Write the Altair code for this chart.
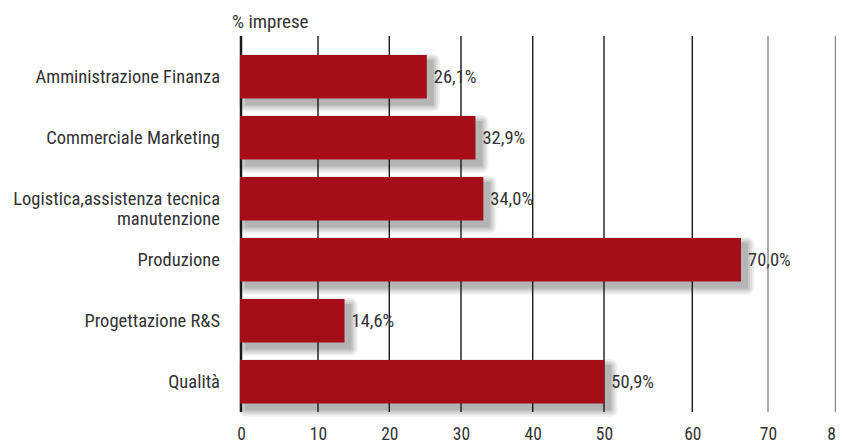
import altair as alt
import pandas as pd

categories = [
    "Amministrazione Finanza",
    "Commerciale Marketing",
    "Logistica,assistenza tecnica\nmanutenzione",
    "Produzione",
    "Progettazione R&S",
    "Qualità",
]
values = [26.1, 32.9, 34.0, 70.0, 14.6, 50.9]
tick_values = [0, 10, 20, 30, 40, 50, 60, 70, 80]
# the original's axis is drawn irregularly; this piecewise scale reproduces where its gridlines sit
grid_range = [1, 78, 149.3, 221, 292.7, 364, 452.3, 528, 595.5]

df = pd.DataFrame({"cat": categories, "value": values})
ticks = pd.DataFrame({"tick": tick_values})

FONT = "Roboto Condensed, Liberation Sans Narrow, DejaVu Sans Condensed, sans-serif"
FS = 18.5
W, H = 596, 376
RED = "#A60E17"
TXT = "#333333"

xs = alt.Scale(domain=[0, 83.27], nice=False, zero=True)
ys = alt.Scale(paddingInner=0.287, paddingOuter=0.2254, align=0.69)

base = alt.Chart(df).encode(
    y=alt.Y("cat:N", sort=categories, scale=ys, axis=None),
)

def shadow(sw, op):
    return base.mark_bar(
        xOffset=6, yOffset=6, color="#222222", stroke="#222222",
        strokeWidth=sw, opacity=op, strokeJoin="round",
    ).encode(x=alt.X("value:Q", scale=xs, axis=None))

shadows = [shadow(14, 0.07), shadow(10, 0.08), shadow(6, 0.10), shadow(2, 0.12)]

grid = alt.Chart(ticks).mark_rule().encode(
    x=alt.X(
        "tick:Q",
        scale=alt.Scale(domain=tick_values, range=grid_range),
        axis=alt.Axis(
            values=tick_values, grid=False, domain=False, ticks=False,
            labelPadding=13, labelFontSize=17.5, labelFont=FONT, labelColor=TXT,
            title=None, labelFlush=False,
        ),
    ),
    color=alt.condition("datum.tick >= 70", alt.value("#8a8a8a"), alt.value("#1a1a1a")),
    strokeWidth=alt.condition("datum.tick == 0", alt.value(2.5), alt.value(1.4)),
)

bars = base.mark_bar(color=RED).encode(x=alt.X("value:Q", scale=xs, axis=None))

vlabels = base.mark_text(
    align="left", baseline="middle", dx=7, fontSize=FS, font=FONT, color=TXT
).transform_calculate(
    lab="replace(format(datum.value, '.1f'), '.', ',') + '%'"
).encode(x=alt.X("value:Q", scale=xs, axis=None), text="lab:N")

clabels = base.mark_text(
    align="right", baseline="middle", fontSize=FS, font=FONT, color=TXT,
    lineBreak="\n", lineHeight=20,
).encode(x=alt.value(-20), text="cat:N")

title = alt.Chart(pd.DataFrame({"t": ["% imprese"]})).mark_text(
    align="left", baseline="alphabetic", fontSize=19, font=FONT, color=TXT
).encode(x=alt.value(-8), y=alt.value(-8), text="t:N")

chart = alt.layer(*shadows, grid, bars, vlabels, clabels, title).resolve_scale(
    x="independent"
).properties(
    width=W, height=H,
    autosize=alt.AutoSizeParams(type="none"),
    padding={"left": 232, "top": 28, "right": 0, "bottom": 30},
).configure_view(stroke=None)

chart.save("out.html", embed_options={"renderer": "svg", "actions": False})
